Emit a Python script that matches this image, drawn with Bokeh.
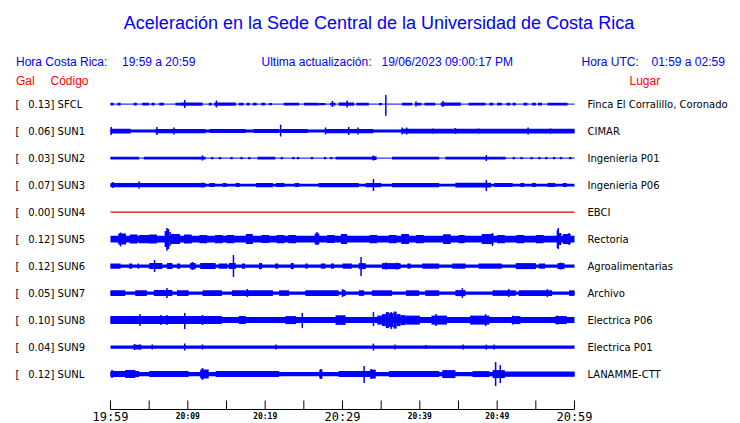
from bokeh.plotting import figure
from bokeh.models import Range1d, ColumnDataSource
from bokeh.core.properties import value
from bokeh.embed import file_html
from bokeh.resources import INLINE

# ---------------- data ----------------
STATIONS = ["SFCL", "SUN1", "SUN2", "SUN3", "SUN4", "SUN5", "SUN6", "SUN7", "SUN8", "SUN9", "SUNL"]
GAL = [0.13, 0.06, 0.03, 0.07, 0.00, 0.12, 0.12, 0.05, 0.10, 0.04, 0.12]
PLACES = ["Finca El Corralillo, Coronado", "CIMAR", "Ingenieria P01", "Ingenieria P06", "EBCI",
          "Rectoria", "Agroalimentarias", "Archivo", "Electrica P06", "Electrica P01", "LANAMME-CTT"]

# background noise half-width of each trace (relative amplitude units)
BASE = [0.5, 1.5, 0.5, 1.3, 0.0, 3.3, 1.7, 1.7, 3.0, 1.7, 2.2]

# bursts: (start minute, end minute, half amplitude)
BURSTS_SFCL = [(0.0, 0.4, 1.3), (0.9, 1.3, 1.3), (3.0, 3.4, 1.3), (4.1, 5.0, 1.3), (5.3, 5.7, 1.3),
               (6.3, 6.9, 1.3), (8.4, 9.1, 1.3), (9.1, 11.9, 1.6), (12.7, 13.1, 1.3), (13.4, 16.2, 1.6),
               (16.6, 17.2, 1.3), (17.6, 18.0, 1.3), (18.4, 18.9, 1.3), (19.5, 20.0, 1.3), (20.5, 20.9, 1.1),
               (22.4, 24.4, 1.3), (25.0, 26.9, 1.4), (26.9, 27.8, 1.1), (28.4, 29.1, 1.4), (29.5, 31.5, 1.6),
               (31.8, 33.4, 1.3), (34.7, 35.1, 1.1), (37.7, 39.0, 1.3), (39.4, 40.2, 1.3), (40.6, 42.0, 1.3),
               (42.7, 45.3, 1.6), (46.3, 48.5, 1.4), (49.0, 49.5, 1.3), (50.0, 50.6, 1.3), (51.2, 51.7, 1.3),
               (52.0, 52.4, 1.3), (53.4, 53.9, 1.3), (54.5, 55.0, 1.3), (55.3, 55.8, 1.3), (56.5, 59.1, 1.4)]
BURSTS_SUN1 = [(0.0, 2.6, 2.3), (5.8, 12.3, 2.2), (12.8, 17.5, 2.0), (18.5, 21.8, 2.0), (22.2, 25.5, 2.0),
               (27.8, 34.0, 2.2), (37.7, 60.0, 2.3)]
BURSTS_SUN2 = [(0.0, 3.7, 1.4), (4.3, 12.3, 1.4), (13.0, 13.3, 1.2), (14.0, 14.3, 1.2), (15.5, 15.8, 1.2),
               (16.8, 17.1, 1.2), (17.8, 18.1, 1.2), (19.0, 21.3, 1.3), (22.0, 22.3, 1.2), (23.5, 23.8, 1.2),
               (24.1, 24.4, 1.2), (25.9, 26.2, 1.2), (27.6, 27.9, 1.2), (28.4, 28.7, 1.2), (29.1, 33.8, 1.4),
               (33.8, 34.4, 1.8), (36.4, 42.5, 1.4), (43.3, 51.1, 1.4), (52.0, 52.3, 1.2), (53.0, 53.3, 1.2),
               (54.3, 54.6, 1.2), (55.3, 55.6, 1.2), (56.2, 56.5, 1.2), (57.2, 57.5, 1.2), (58.1, 58.4, 1.2),
               (59.3, 59.6, 1.2)]
BURSTS_SUN3 = [(0.0, 12.3, 2.2), (12.8, 13.5, 2.0), (14.5, 15.0, 2.0), (16.2, 16.7, 2.0), (18.8, 21.0, 2.2),
               (21.4, 22.5, 2.0), (23.8, 24.4, 2.0), (26.9, 32.1, 2.2), (33.0, 35.0, 2.2), (36.4, 42.5, 2.2),
               (44.6, 49.2, 2.4), (49.6, 52.0, 2.0), (53.0, 53.5, 2.0), (54.5, 55.0, 2.0), (56.5, 57.5, 2.0),
               (58.5, 59.0, 2.0)]
BURSTS_SUN4 = []
BURSTS_SUN5 = [(1.0, 2.0, 5.5), (2.5, 3.5, 4.5), (3.7, 5.0, 4.2), (5.0, 6.0, 4.5), (7.0, 7.3, 8.0),
               (7.3, 7.6, 10.0), (7.6, 7.8, 7.0), (7.8, 9.0, 5.0), (9.5, 10.5, 4.5), (11.5, 12.5, 4.2),
               (13.5, 14.5, 4.2), (15.0, 16.0, 4.2), (17.5, 18.4, 5.0), (19.5, 20.5, 4.0), (21.5, 22.5, 4.2),
               (23.0, 24.0, 4.2), (26.4, 27.0, 5.5), (28.0, 29.0, 4.0), (29.8, 30.6, 5.0), (33.5, 34.5, 4.2),
               (36.0, 37.0, 4.2), (37.6, 38.6, 5.0), (39.5, 40.5, 4.2), (43.0, 44.0, 4.8), (45.0, 45.8, 4.2),
               (48.0, 49.5, 5.0), (50.0, 51.0, 4.2), (52.5, 53.5, 4.2), (55.0, 56.0, 4.2), (57.7, 57.95, 9.0),
               (57.95, 58.3, 6.0), (58.5, 59.5, 5.0)]
BURSTS_SUN6 = [(0.0, 1.3, 2.6), (2.4, 2.8, 2.6), (3.5, 3.7, 2.6), (5.0, 6.7, 3.0), (7.3, 8.0, 3.0),
               (8.6, 9.0, 2.6), (10.3, 11.0, 3.2), (11.6, 13.6, 3.0), (14.0, 15.1, 2.6), (15.3, 16.2, 3.0),
               (17.0, 17.4, 2.6), (19.2, 19.6, 3.0), (21.3, 21.7, 2.6), (23.3, 23.7, 3.0), (25.2, 25.5, 2.6),
               (27.2, 27.8, 2.6), (28.5, 28.9, 2.6), (30.0, 31.2, 2.6), (32.1, 33.0, 3.0), (35.1, 37.5, 3.0),
               (38.4, 38.8, 2.6), (40.3, 42.5, 2.6), (44.2, 45.9, 2.6), (47.6, 50.6, 2.6), (52.4, 55.0, 3.0),
               (55.4, 56.2, 2.6), (57.8, 58.7, 3.0)]
BURSTS_SUN7 = [(0.0, 1.9, 2.8), (3.2, 4.7, 2.8), (5.6, 8.0, 3.0), (8.6, 10.1, 2.8), (11.9, 14.4, 2.8),
               (15.7, 21.0, 2.8), (21.8, 23.1, 2.8), (25.2, 29.5, 2.8), (30.0, 30.4, 3.0), (32.1, 32.8, 2.8),
               (33.8, 36.4, 2.8), (38.2, 39.9, 2.8), (40.7, 42.5, 2.8), (44.6, 45.9, 3.0), (49.4, 52.4, 2.8),
               (52.8, 57.1, 2.8), (59.3, 60.0, 2.8)]
BURSTS_SUN8 = [(0.0, 14.4, 4.0), (16.6, 17.5, 4.0), (22.6, 24.0, 4.0), (29.1, 30.4, 4.8), (34.5, 35.1, 4.5),
               (35.1, 35.6, 6.0), (35.6, 36.0, 8.0), (36.0, 36.6, 7.0), (36.6, 37.0, 8.5), (37.0, 37.5, 6.0),
               (37.5, 38.1, 5.0), (38.1, 40.0, 4.5), (41.5, 43.5, 4.5), (46.5, 49.0, 4.5), (52.0, 53.0, 4.0),
               (57.5, 59.0, 4.0)]
BURSTS_SUN9 = [(3.0, 4.0, 2.3)]
BURSTS_SUNL = [(0.0, 3.7, 3.0), (1.9, 3.2, 4.0), (5.0, 10.1, 3.0), (11.6, 12.7, 4.5), (13.6, 21.8, 3.0),
               (27.0, 27.4, 4.5), (29.5, 33.8, 3.0), (33.6, 34.3, 4.5), (36.0, 42.5, 3.0), (42.9, 44.6, 4.0),
               (46.8, 49.0, 3.0), (49.4, 51.0, 4.0), (51.0, 60.0, 2.7)]

# spikes: (minute, amplitude up, amplitude down)
SPIKES_SFCL = [(9.6, 4.0, 4.0), (13.7, 3.5, 3.5), (28.7, 3.0, 3.0), (30.6, 3.5, 3.5), (35.6, 9.0, 11.6),
               (39.5, 2.5, 2.5), (43.0, 3.0, 3.0)]
SPIKES_SUN1 = [(0.1, 4.0, 4.0), (6.0, 4.0, 4.0), (8.2, 3.5, 3.5), (22.0, 6.3, 5.3), (27.8, 3.5, 3.5),
               (30.8, 4.0, 4.0), (32.0, 3.5, 3.5), (37.7, 3.5, 3.5), (38.3, 3.5, 3.5), (41.7, 2.5, 2.5),
               (44.6, 3.0, 3.0), (47.6, 2.5, 2.5), (54.0, 3.5, 3.5), (56.9, 2.5, 2.5)]
SPIKES_SUN2 = [(11.9, 2.5, 2.5), (34.0, 2.5, 2.5), (48.6, 3.0, 3.0)]
SPIKES_SUN3 = [(0.3, 3.0, 3.0), (3.7, 3.5, 3.5), (11.9, 2.5, 2.5), (34.0, 6.0, 6.0), (48.6, 5.0, 6.0)]
SPIKES_SUN4 = []
SPIKES_SUN5 = [(1.3, 6.7, 7.3), (7.3, 11.0, 11.7), (26.7, 7.0, 6.0), (30.1, 5.0, 5.0), (38.0, 5.0, 5.0),
               (49.4, 6.0, 7.0), (57.9, 11.0, 10.0), (59.3, 6.0, 6.0)]
SPIKES_SUN6 = [(5.7, 6.0, 6.0), (10.6, 4.0, 4.0), (15.9, 11.0, 11.0), (19.4, 3.0, 3.0), (23.5, 3.0, 3.0),
               (32.4, 9.0, 10.0), (35.6, 3.5, 3.5), (37.0, 3.5, 3.5), (58.2, 3.5, 3.5)]
SPIKES_SUN7 = [(7.3, 5.0, 5.0), (17.7, 4.0, 4.0), (30.0, 4.0, 4.0), (45.5, 5.0, 5.0), (51.5, 4.0, 4.0),
               (56.5, 4.0, 4.0)]
SPIKES_SUN8 = [(3.8, 6.0, 6.0), (6.5, 5.0, 5.0), (7.3, 5.0, 5.0), (9.6, 7.0, 9.0), (11.9, 5.0, 5.0),
               (24.8, 7.0, 8.0), (34.0, 8.0, 6.0), (36.3, 8.0, 9.0), (42.1, 6.0, 6.0), (48.5, 6.0, 6.0),
               (52.0, 4.5, 4.5), (57.8, 4.5, 4.5)]
SPIKES_SUN9 = [(3.1, 3.0, 3.0), (3.8, 2.5, 2.5), (5.4, 2.5, 2.5), (9.6, 3.5, 3.5), (11.9, 2.5, 2.5),
               (21.4, 2.5, 2.5), (34.0, 3.5, 3.5), (36.8, 2.5, 2.5), (40.8, 2.0, 2.0), (45.6, 2.5, 2.5),
               (48.6, 2.5, 2.5), (49.6, 2.5, 2.5)]
SPIKES_SUNL = [(0.2, 4.0, 4.0), (11.9, 6.0, 6.0), (27.2, 5.0, 5.0), (32.8, 8.0, 9.0), (33.7, 5.0, 5.0),
               (49.8, 12.0, 12.0), (50.4, 9.0, 9.0)]

BURSTS = [BURSTS_SFCL, BURSTS_SUN1, BURSTS_SUN2, BURSTS_SUN3, BURSTS_SUN4, BURSTS_SUN5,
          BURSTS_SUN6, BURSTS_SUN7, BURSTS_SUN8, BURSTS_SUN9, BURSTS_SUNL]
SPIKES = [SPIKES_SFCL, SPIKES_SUN1, SPIKES_SUN2, SPIKES_SUN3, SPIKES_SUN4, SPIKES_SUN5,
          SPIKES_SUN6, SPIKES_SUN7, SPIKES_SUN8, SPIKES_SUN9, SPIKES_SUNL]

DURATION_MIN = 60
TICK_MIN = [0, 5, 10, 15, 20, 25, 30, 35, 40, 45, 50, 55, 60]
LABEL_MIN = [0, 10, 20, 30, 40, 50, 60]
LABEL_TEXT = ["19:59", "20:09", "20:19", "20:29", "20:39", "20:49", "20:59"]
LABEL_BIG = [True, False, False, True, False, False, True]

TITLE = "Aceleración en la Sede Central de la Universidad de Costa Rica"

# ---------------- layout ----------------
W, H = 740, 423
PX_PER_MIN = 464 / 60.0
T0_PX = 110.0


def tx(px):
    return (px - T0_PX) / PX_PER_MIN


ROW_Y0 = 103.6
ROW_STEP = 27.0
BLUE = "#0000FF"
RED = "#FF0000"

p = figure(width=W, height=H, x_range=Range1d(tx(0), tx(W)),
           y_range=Range1d(H, 0), output_backend="svg", toolbar_location=None,
           min_border=0, x_axis_location=None, y_axis_location=None,
           outline_line_color=None, background_fill_color="white", border_fill_color="white")
p.grid.visible = False

# traces
base = dict(x0=[], x1=[], y=[], w=[])
quads = dict(l=[], r=[], t=[], b=[])
spk = dict(x=[], y0=[], y1=[])
for i, st in enumerate(STATIONS):
    yc = ROW_Y0 + i * ROW_STEP
    if GAL[i] == 0.0:
        p.segment(x0=[0], y0=[yc], x1=[DURATION_MIN], y1=[yc], line_color="#DD0000", line_width=1.3)
        continue
    base["x0"].append(0); base["x1"].append(DURATION_MIN); base["y"].append(yc); base["w"].append(2 * BASE[i])
    for (a, b, amp) in BURSTS[i]:
        quads["l"].append(a); quads["r"].append(b)
        quads["t"].append(yc - amp); quads["b"].append(yc + amp)
    for (t, up, dn) in SPIKES[i]:
        spk["x"].append(t); spk["y0"].append(yc - up); spk["y1"].append(yc + dn)

p.segment(x0="x0", y0="y", x1="x1", y1="y", line_width="w", line_color=BLUE,
          source=ColumnDataSource(base))
p.quad(left="l", right="r", top="t", bottom="b", fill_color=BLUE, line_color=None,
       source=ColumnDataSource(quads))
p.segment(x0="x", y0="y0", x1="x", y1="y1", line_color=BLUE, line_width=1.5,
          source=ColumnDataSource(spk))

# station labels
ys = [ROW_Y0 + i * ROW_STEP for i in range(len(STATIONS))]
p.text(x=[tx(15)] * len(STATIONS), y=ys, text=["["] * len(STATIONS), text_font=value("DejaVu Sans"),
       text_font_size="10px", text_baseline="middle", text_color="black")
p.text(x=[tx(27.7)] * len(STATIONS), y=ys, text=["%.2f] %s" % (g, s) for g, s in zip(GAL, STATIONS)],
       text_font=value("DejaVu Sans"), text_font_size="10px", text_baseline="middle", text_color="black")
p.text(x=[tx(587)] * len(STATIONS), y=ys, text=PLACES, text_font=value("DejaVu Sans"),
       text_font_size="10px", text_baseline="middle", text_color="black")

# title and headers
p.text(x=[tx(378.5)], y=[22], text=[TITLE], text_font=value("Liberation Sans"), text_font_size="18px",
       text_align="center", text_baseline="middle", text_color=BLUE)
hdr_x = [tx(15.5), tx(121.5), tx(261), tx(381), tx(581), tx(651)]
hdr_t = ["Hora Costa Rica:", "19:59 a 20:59", "Ultima actualización:", "19/06/2023 09:00:17 PM",
         "Hora UTC:", "01:59 a 02:59"]
p.text(x=hdr_x, y=[61] * 6, text=hdr_t, text_font=value("Liberation Sans"), text_font_size="12px",
       text_baseline="middle", text_color=BLUE)
p.text(x=[tx(15.5), tx(50), tx(629)], y=[80] * 3, text=["Gal", "Código", "Lugar"],
       text_font=value("Liberation Sans"), text_font_size="12px", text_baseline="middle", text_color=RED)

# time axis
AX_Y = 409
p.segment(x0=[0], y0=[AX_Y], x1=[DURATION_MIN], y1=[AX_Y], line_color="black", line_width=1)
p.segment(x0=TICK_MIN, y0=[AX_Y - 9] * len(TICK_MIN), x1=TICK_MIN, y1=[AX_Y] * len(TICK_MIN),
          line_color="black", line_width=1)
big_x = [m for m, b in zip(LABEL_MIN, LABEL_BIG) if b]
big_t = [t for t, b in zip(LABEL_TEXT, LABEL_BIG) if b]
sm_x = [m for m, b in zip(LABEL_MIN, LABEL_BIG) if not b]
sm_t = [t for t, b in zip(LABEL_TEXT, LABEL_BIG) if not b]
p.text(x=big_x, y=[416.3] * len(big_x), text=big_t, text_font=value("DejaVu Sans Mono"),
       text_font_size="12px", text_align="center", text_baseline="middle", text_color="black")
p.text(x=sm_x, y=[415.8] * len(sm_x), text=sm_t, text_font=value("DejaVu Sans Mono"),
       text_font_size="8px", text_font_style="bold", text_align="center", text_baseline="middle",
       text_color="black")

open("out.html", "w").write(file_html(p, INLINE))
